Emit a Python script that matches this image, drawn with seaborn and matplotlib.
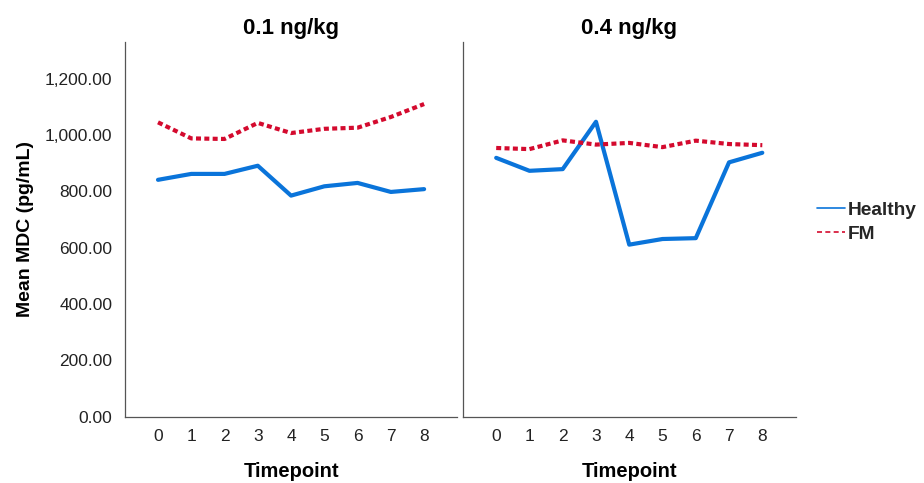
import pandas as pd
import matplotlib.pyplot as plt
import seaborn as sns
from matplotlib.lines import Line2D
from matplotlib.ticker import FuncFormatter

# Data
timepoints = [0, 1, 2, 3, 4, 5, 6, 7, 8]
healthy_01 = [841, 862, 862, 891, 785, 818, 830, 798, 808]
fm_01 = [1045, 988, 986, 1043, 1007, 1022, 1026, 1064, 1110]
healthy_04 = [919, 873, 879, 1047, 611, 631, 634, 903, 937]
fm_04 = [954, 950, 981, 966, 972, 957, 980, 968, 964]
doses = ["0.1 ng/kg", "0.4 ng/kg"]

rows = []
for dose, h, f in [(doses[0], healthy_01, fm_01), (doses[1], healthy_04, fm_04)]:
    for t, hv, fv in zip(timepoints, h, f):
        rows.append({"Dose": dose, "Timepoint": t, "Group": "Healthy", "MDC": hv})
        rows.append({"Dose": dose, "Timepoint": t, "Group": "FM", "MDC": fv})
df = pd.DataFrame(rows)

sns.set_style("white")
plt.rcParams['font.family'] = ['Liberation Sans', 'DejaVu Sans']

colors = {"Healthy": "#0a74da", "FM": "#d40a2e"}
dashes = {"Healthy": "", "FM": (1.2, 0.8)}

fig = plt.figure(figsize=(9.24, 4.83), dpi=100)
ax1 = fig.add_axes([0.135, 0.137, 0.36, 0.776])
ax2 = fig.add_axes([0.501, 0.137, 0.36, 0.776], sharey=ax1)

for ax, dose in zip([ax1, ax2], doses):
    sub = df[df["Dose"] == dose]
    sns.lineplot(data=sub, x="Timepoint", y="MDC", hue="Group", style="Group",
                 palette=colors, dashes=dashes, linewidth=3, ax=ax, legend=False)
    ax.set_title(dose, fontsize=16, fontweight="bold", pad=6, color="black")
    ax.set_xlim(-1, 9)
    ax.set_xticks(timepoints)
    ax.set_xlabel("Timepoint", fontsize=14.5, fontweight="bold", labelpad=13, color="black")
    for s in ["top", "right"]:
        ax.spines[s].set_visible(False)
    for s in ["left", "bottom"]:
        ax.spines[s].set_color("#555555")
        ax.spines[s].set_linewidth(0.9)
    ax.tick_params(length=0, labelsize=12.5, colors="#222222", pad=9)

ax1.set_ylim(0, 1330)
ax1.set_yticks([0, 200, 400, 600, 800, 1000, 1200])
ax1.yaxis.set_major_formatter(FuncFormatter(lambda v, p: f"{v:,.2f}"))
ax1.set_ylabel("Mean MDC (pg/mL)", fontsize=14, fontweight="bold", labelpad=8, color="black")
ax2.set_ylabel("")
ax2.tick_params(axis="y", labelleft=False)

handles = [Line2D([0], [0], color=colors["Healthy"], lw=1.2),
           Line2D([0], [0], color=colors["FM"], lw=1.2, linestyle=(0, (3, 2)))]
fig.legend(handles, ["Healthy", "FM"], loc="center left", bbox_to_anchor=(0.884, 0.54),
           frameon=False, handlelength=1.45, handletextpad=0.15, labelspacing=0.35,
           borderpad=0, borderaxespad=0,
           prop={"size": 13.8, "weight": "bold"})

fig.savefig("out.png", dpi=100)
